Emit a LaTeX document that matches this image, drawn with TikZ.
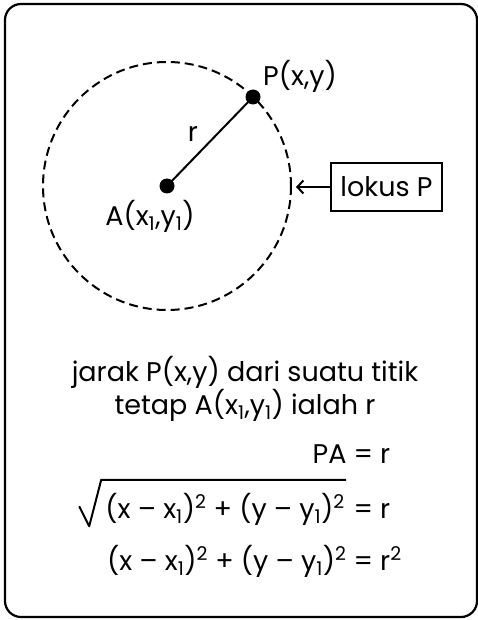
\documentclass[tikz,border=0pt]{standalone}
\usepackage{fontspec}
\setmainfont{Poppins}
\usetikzlibrary{arrows.meta,positioning}

\newcommand{\sub}[1]{\textsubscript{#1}}
\newcommand{\sq}{\textsuperscript{2}}

\begin{document}
\begin{tikzpicture}[x=1pt,y=-1pt,
  every node/.style={font=\fontsize{27}{32}\selectfont},
  dot/.style={circle,fill=black,inner sep=0pt,minimum size=15pt},
  lokusbox/.style={draw,line width=2pt,minimum width=111pt,minimum height=48pt}]
  \useasboundingbox (0,0) rectangle (478,620);
  \draw[line width=2.2pt,rounded corners=16pt] (5,4) rectangle (477,617);
  % circle of points at distance r from A
  \coordinate (A) at (167,186);
  \draw[line width=2pt,dash pattern=on 9pt off 5pt] (A) circle[radius=124pt];
  \coordinate (P) at (253,97);
  \draw[line width=2pt] (A) -- (P);
  \node[dot] (Adot) at (A) {};
  \node[dot] (Pdot) at (P) {};
  \node (Plbl) at (300,76) {P(x,y)};
  \node (rlbl) at (193,134) {r};
  \node (Albl) at (150,216) {A(x\sub{1},y\sub{1})};
  % label for the locus
  \node[lokusbox] (lokus) at (386.5,187) {lokus P};
  \coordinate (tip) at (296,187);
  \draw[-{Straight Barb[length=6pt,width=13pt]},line width=2pt] (lokus.west) -- (tip);
  % definition and equations
  \node[align=center] (desc) at (245,389)
    {jarak P(x,y) dari suatu titik\\tetap A(x\sub{1},y\sub{1}) ialah r};
  \node[anchor=base east] (lhs1) at (350,463) {PA};
  \node[anchor=base west] (rhs1) at (350,463) {= r};
  \node[anchor=base east,inner sep=1pt,text height=37pt,text depth=7pt] (rad) at (346,518)
    {(x – x\sub{1})\sq{} + (y – y\sub{1})\sq};
  \draw[line width=2pt,line join=round]
    ([xshift=-25pt,yshift=20pt]rad.south west) -- ([xshift=-15pt]rad.south west)
    -- ([xshift=-3pt]rad.north west) -- (rad.north east);
  \node[anchor=base west] (rhs2) at (350,518) {= r};
  \node[anchor=base east] (lhs3) at (350,570) {(x – x\sub{1})\sq{} + (y – y\sub{1})\sq};
  \node[anchor=base west] (rhs3) at (350,570) {= r\sq};
\end{tikzpicture}
\end{document}
